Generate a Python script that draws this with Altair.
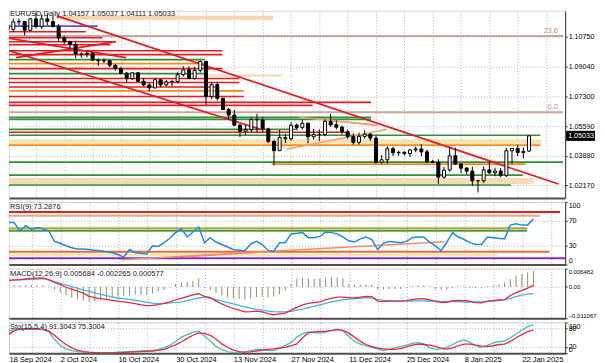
import altair as alt
import pandas as pd

# ---------------- data ----------------
date_labels = ["18 Sep 2024", "2 Oct 2024", "16 Oct 2024", "30 Oct 2024", "13 Nov 2024",
               "27 Nov 2024", "11 Dec 2024", "25 Dec 2024", "8 Jan 2025", "22 Jan 2025"]

opens = [1.1133, 1.1117, 1.1161, 1.1163, 1.1112, 1.1178, 1.1134, 1.1178, 1.1163, 1.1135,
         1.1068, 1.1047, 1.1031, 1.0975, 1.0975, 1.0979, 1.0941, 1.0936, 1.0937, 1.0910,
         1.0892, 1.0865, 1.0833, 1.0867, 1.0818, 1.0797, 1.0780, 1.0827, 1.0797, 1.0815,
         1.0817, 1.0856, 1.0884, 1.0834, 1.0881, 1.0932, 1.0730, 1.0799, 1.0720, 1.0655,
         1.0623, 1.0565, 1.0530, 1.0540, 1.0597, 1.0596, 1.0543, 1.0471, 1.0418, 1.0494,
         1.0487, 1.0565, 1.0552, 1.0576, 1.0498, 1.0511, 1.0511, 1.0587, 1.0567, 1.0553,
         1.0528, 1.0500, 1.0466, 1.0500, 1.0513, 1.0490, 1.0351, 1.0365, 1.0429, 1.0406,
         1.0408, 1.0401, 1.0422, 1.0428, 1.0411, 1.0354, 1.0351, 1.0265, 1.0306, 1.0388,
         1.0341, 1.0317, 1.0300, 1.0244, 1.0244, 1.0307, 1.0290, 1.0300, 1.0274, 1.0417,
         1.0431, 1.0407, 1.04157]
highs = [1.1189, 1.1180, 1.1180, 1.1166, 1.1182, 1.1214, 1.1202, 1.1209, 1.1196, 1.1148,
         1.1080, 1.1054, 1.1043, 1.0985, 1.0990, 1.0985, 1.0951, 1.0950, 1.0942, 1.0918,
         1.0902, 1.0872, 1.0870, 1.0871, 1.0838, 1.0808, 1.0837, 1.0832, 1.0826, 1.0828,
         1.0870, 1.0905, 1.0905, 1.0901, 1.0937, 1.0937, 1.0811, 1.0815, 1.0723, 1.0665,
         1.0653, 1.0572, 1.0568, 1.0608, 1.0630, 1.0610, 1.0550, 1.0480, 1.0537, 1.0516,
         1.0582, 1.0575, 1.0597, 1.0580, 1.0543, 1.0540, 1.0599, 1.0630, 1.0593, 1.0563,
         1.0540, 1.0518, 1.0522, 1.0535, 1.0519, 1.0505, 1.0393, 1.0443, 1.0441, 1.0418,
         1.0415, 1.0425, 1.0442, 1.0456, 1.0425, 1.0365, 1.0368, 1.0323, 1.0437, 1.0435,
         1.0345, 1.0323, 1.0325, 1.0248, 1.0326, 1.0354, 1.0320, 1.0318, 1.0433, 1.0433,
         1.0452, 1.0437, 1.05037]
lows = [1.1107, 1.1103, 1.1140, 1.1083, 1.1110, 1.1122, 1.1121, 1.1142, 1.1128, 1.1045,
        1.1034, 1.1006, 1.0952, 1.0954, 1.0956, 1.0936, 1.0906, 1.0923, 1.0899, 1.0879,
        1.0858, 1.0811, 1.0826, 1.0812, 1.0789, 1.0761, 1.0777, 1.0785, 1.0790, 1.0788,
        1.0810, 1.0845, 1.0831, 1.0829, 1.0869, 1.0682, 1.0714, 1.0707, 1.0652, 1.0595,
        1.0560, 1.0497, 1.0508, 1.0525, 1.0523, 1.0526, 1.0461, 1.0333, 1.0415, 1.0462,
        1.0475, 1.0541, 1.0540, 1.0460, 1.0481, 1.0473, 1.0501, 1.0555, 1.0541, 1.0511,
        1.0486, 1.0453, 1.0453, 1.0487, 1.0474, 1.0343, 1.0343, 1.0343, 1.0387, 1.0388,
        1.0390, 1.0382, 1.0409, 1.0386, 1.0345, 1.0345, 1.0226, 1.0255, 1.0297, 1.0335,
        1.0290, 1.0282, 1.0215, 1.0177, 1.0232, 1.0283, 1.0270, 1.0266, 1.0266, 1.0341,
        1.0386, 1.0373, 1.04111]
closes = [1.1117, 1.1161, 1.1163, 1.1112, 1.1178, 1.1134, 1.1178, 1.1163, 1.1135, 1.1068,
          1.1047, 1.1031, 1.0975, 1.0975, 1.0979, 1.0941, 1.0936, 1.0937, 1.0910, 1.0892,
          1.0865, 1.0833, 1.0867, 1.0818, 1.0797, 1.0780, 1.0827, 1.0797, 1.0815, 1.0817,
          1.0856, 1.0884, 1.0834, 1.0881, 1.0932, 1.0730, 1.0799, 1.0720, 1.0655, 1.0623,
          1.0565, 1.0530, 1.0540, 1.0597, 1.0596, 1.0543, 1.0471, 1.0418, 1.0494, 1.0487,
          1.0565, 1.0552, 1.0576, 1.0498, 1.0511, 1.0511, 1.0587, 1.0567, 1.0553, 1.0528,
          1.0500, 1.0466, 1.0500, 1.0513, 1.0490, 1.0351, 1.0365, 1.0429, 1.0406, 1.0408,
          1.0401, 1.0422, 1.0428, 1.0411, 1.0354, 1.0351, 1.0265, 1.0306, 1.0388, 1.0341,
          1.0317, 1.0300, 1.0244, 1.0244, 1.0307, 1.0290, 1.0300, 1.0274, 1.0417, 1.0431,
          1.0407, 1.0414, 1.05033]

rsi_vals = [59, 67, 67, 54, 62, 56, 59, 57, 54, 37, 34, 30, 27, 25, 25, 24, 23, 22, 20, 19,
            16, 12, 24, 19, 18, 17, 30, 29, 35, 42, 51, 57, 44, 52, 60, 35, 43, 36, 32, 28,
            24, 23, 22, 33, 37, 32, 23, 21, 35, 35, 49, 50, 51, 43, 43, 45, 52, 51, 49, 44,
            38, 36, 41, 44, 40, 24, 34, 37, 36, 35, 37, 43, 44, 44, 36, 30, 22, 36, 51, 44,
            40, 35, 32, 32, 44, 43, 42, 41, 63, 65, 63, 63, 73.2876]

macd_hist = [0.0004, 0.0005, 0.0006, 0.0005, 0.0006, 0.0006, 0.0006, 0.0005, 0.0002, -0.0008,
             -0.0020, -0.0030, -0.0038, -0.0043, -0.0048, -0.0052, -0.0050, -0.0046, -0.0040, -0.0036,
             -0.0033, -0.0031, -0.0030, -0.0028, -0.0027, -0.0026, -0.0022, -0.0016, -0.0010, -0.0002,
             0.0010, 0.0015, 0.0018, 0.0022, 0.0030, -0.0002, -0.0012, -0.0022, -0.0030, -0.0036,
             -0.0040, -0.0042, -0.0044, -0.0041, -0.0036, -0.0034, -0.0036, -0.0034, -0.0026, -0.0012,
             0.0010, 0.0030, 0.0032, 0.0030, 0.0030, 0.0030, 0.0033, 0.0034, 0.0033, 0.0030,
             0.0009, 0.0008, 0.0008, 0.0009, 0.0008, -0.0008, -0.0010, -0.0008, -0.0008, -0.0007,
             -0.0002, 0.0003, 0.0005, 0.0005, 0.0002, -0.0008, -0.0010, -0.0009, -0.0004, 0.0002,
             0.0001, -0.0004, -0.0004, -0.0003, 0.0002, 0.0005, 0.0009, 0.0017, 0.0028, 0.0040,
             0.0046, 0.0052, 0.005684]
macd_red = [0.0021, 0.0023, 0.0025, 0.0026, 0.0028, 0.0030, 0.0031, 0.0032, 0.0026, 0.0016,
            0.0008, -0.0001, -0.0008, -0.0015, -0.0022, -0.0033, -0.0038, -0.0041, -0.0044, -0.0047,
            -0.0050, -0.0053, -0.0055, -0.0059, -0.0063, -0.0066, -0.0065, -0.0062, -0.0058, -0.0053,
            -0.0046, -0.0040, -0.0034, -0.0028, -0.0024, -0.0033, -0.0038, -0.0050, -0.0060, -0.0069,
            -0.0076, -0.0082, -0.0088, -0.0087, -0.0085, -0.0088, -0.0094, -0.0098, -0.0095, -0.0092,
            -0.0082, -0.0072, -0.0063, -0.0058, -0.0055, -0.0053, -0.0045, -0.0040, -0.0036, -0.0036,
            -0.0038, -0.0039, -0.0036, -0.0033, -0.0034, -0.0050, -0.0052, -0.0050, -0.0050, -0.0050,
            -0.0048, -0.0045, -0.0042, -0.0041, -0.0046, -0.0050, -0.0055, -0.0054, -0.0048, -0.0047,
            -0.0048, -0.0050, -0.0055, -0.0056, -0.0050, -0.0048, -0.0046, -0.0045, -0.0030, -0.0020,
            -0.0012, -0.0004, 0.000577]
macd_blue = [0.0020, 0.0022, 0.0024, 0.0025, 0.0026, 0.0027, 0.0028, 0.0029, 0.0025, 0.0019,
             0.0013, 0.0007, 0.0001, -0.0005, -0.0010, -0.0016, -0.0021, -0.0026, -0.0031, -0.0035,
             -0.0039, -0.0041, -0.0044, -0.0047, -0.0050, -0.0054, -0.0057, -0.0059, -0.0058, -0.0056,
             -0.0055, -0.0053, -0.0048, -0.0043, -0.0039, -0.0036, -0.0040, -0.0045, -0.0050, -0.0055,
             -0.0060, -0.0065, -0.0070, -0.0075, -0.0079, -0.0082, -0.0085, -0.0087, -0.0088, -0.0088,
             -0.0086, -0.0082, -0.0078, -0.0073, -0.0068, -0.0063, -0.0058, -0.0053, -0.0049, -0.0045,
             -0.0043, -0.0041, -0.0040, -0.0038, -0.0040, -0.0044, -0.0047, -0.0048, -0.0049, -0.0050,
             -0.0050, -0.0050, -0.0049, -0.0049, -0.0050, -0.0050, -0.0051, -0.0052, -0.0052, -0.0052,
             -0.0053, -0.0053, -0.0053, -0.0053, -0.0052, -0.0050, -0.0048, -0.0045, -0.0040, -0.0034,
             -0.0029, -0.0025, -0.002265]
sto_main = [52, 70, 78, 78, 80, 81, 80, 76, 70, 45, 25, 13, 8, 5, 3, 2, 2, 1, 1, 2,
            3, 4, 5, 6, 7, 8, 8, 12, 18, 25, 38, 52, 60, 68, 71, 55, 40, 22, 12, 5,
            2, 1, 3, 8, 12, 11, 9, 8, 15, 25, 34, 52, 63, 69, 67, 65, 68, 74, 78, 72,
            55, 38, 29, 24, 19, 14, 8, 12, 17, 21, 26, 32, 34, 30, 18, 12, 14, 19, 28, 38,
            43, 35, 24, 19, 25, 33, 37, 40, 50, 62, 75, 86, 91.3043]
sto_signal = [43, 60, 72, 78, 78, 78, 78, 78, 72, 58, 42, 28, 17, 10, 5, 3, 2, 1, 1, 1,
              1, 2, 3, 4, 5, 6, 7, 9, 12, 20, 27, 37, 48, 58, 66, 64, 58, 45, 30, 19,
              10, 5, 3, 4, 7, 10, 12, 14, 17, 19, 24, 30, 50, 66, 69, 70, 71, 73, 76, 74,
              65, 52, 38, 28, 21, 16, 14, 12, 12, 15, 20, 26, 29, 28, 26, 22, 16, 13, 17, 24,
              29, 29, 26, 23, 21, 24, 28, 29, 38, 50, 60, 70, 75.3004]

price_ticks = [1.10750, 1.09040, 1.07300, 1.05590, 1.03880, 1.02170]

# drawn price levels: (price, from bar, to bar)
red_levels = [(1.11037, -1, 13.8), (1.10693, -1, 16.7), (1.10463, -1, 18.4), (1.10291, -1, 18.1),
              (1.09946, -1, 37.9), (1.09717, -1, 37.9), (1.08913, -1, 37.9), (1.08339, -1, 40.9),
              (1.08110, -1, 40.9), (1.07851, -1, 36.6), (1.07306, -1, 41.7), (1.06962, -1, 64.1),
              (1.06789, -1, 53.8), (1.05240, -1, 59.8)]
green_levels = [(1.09430, -1, 34.8), (1.08626, -1, 34.8), (1.06101, -1, 64.1), (1.05986, -1, 64.1),
                (1.05412, -1, 51.2), (1.05067, -1, 94.0), (1.03518, -1, 98.0), (1.02771, -1, 90.9),
                (1.02197, -1, 88.8)]
orange_levels = [(1.09200, -1, 34.8), (1.07622, -1, 41.7), (1.04493, -1, 94.0), (1.03403, 46.6, 91.4)]
purple_levels = [(1.11364, -1, 15.9)]
fib_levels = [(1.10790, -1, 98.0), (1.06388, -1, 98.0)]
fib_names = ["23.6", "0.0"]
bands = [(1.11726, 1.11955, 8.7, 46.8), (1.08454, 1.08569, 35.4, 48.4),
         (1.04551, 1.04837, -1, 94.2), (1.02255, 1.02599, -1, 92.8)]
red_diagonals = [(8.7, 1.11955, 97.2, 1.02255), (-0.3, 1.10693, 20.9, 1.09545),
                 (-0.3, 1.10004, 44.6, 1.05412), (1.5, 1.09545, 19.1, 1.10463)]
orange_diagonals = [(49.2, 1.04264, 67.0, 1.05412), (55.4, 1.05986, 65.3, 1.05640),
                    (51.5, 1.06101, 64.8, 1.05640)]

rsi_levels = [(84.1, -1, 96.6, "red"), (77.8, -1, 93.1, "salmon"), (57.9, -1, 90.9, "olive"),
              (54.0, -1, 90.9, "green"), (20.6, -1, 94.8, "orange"), (15.9, -1, 85.7, "yellow"),
              (10.3, -1, 98.0, "purple")]
rsi_diagonals = [(20.7, 7.9, 76.6, 36.5), (31.7, 12.7, 46.0, 20.6)]

# ---------------- layout / styling ----------------
FONT = "Liberation Sans"
FS = 7.5
AFS = 7.2
XMIN, XMAX = 1.12, 97.5
W = 559
xsc = alt.Scale(domain=[XMIN, XMAX], nice=False, zero=False)
grid5 = list(range(5, 100, 5))
label_js = "[" + ",".join("'%s'" % d for d in date_labels) + "]"

XA_PLAIN = alt.Axis(values=grid5, grid=True, gridColor="#b4b4b4", gridDash=[1, 2], ticks=False,
                    labels=False, domainColor="#505050", domainWidth=2, title=None)
XA_DATES = alt.Axis(values=[XMIN] + grid5, grid=True, gridColor="#b4b4b4", gridDash=[1, 2],
                    ticks=False, domainColor="#505050", domainWidth=2,
                    labelExpr="datum.value < 5 ? %s[0] : (datum.value %% 10 == 0 ? %s[round(datum.value/10)] : '')" % (label_js, label_js),
                    labelAlign="left", labelFont=FONT, labelFontSize=FS, labelColor="#000",
                    labelOverlap=False, labelPadding=2, title=None)


def y_axis(values, size=AFS, **kw):
    return alt.Axis(orient="right", values=values, grid=True, gridColor="#b4b4b4", gridDash=[1, 2],
                    domainColor="#303030", tickColor="#303030", tickSize=2, labelFont=FONT,
                    labelFontSize=size, labelColor="#000", labelPadding=1, title=None, **kw)


def label(text):
    return alt.Chart(pd.DataFrame({"t": [text]})).mark_text(
        align="left", baseline="middle", font=FONT, fontSize=FS, color="#202020"
    ).encode(x=alt.value(1), y=alt.value(5), text="t:N")


# ---------------- price panel ----------------
ysc = alt.Scale(domain=[1.01451, 1.12242], nice=False, zero=False)
YA_P = y_axis(price_ticks, format=".5f")
n = len(closes)
candles = pd.DataFrame({"i": list(range(n)), "o": opens, "h": highs, "l": lows, "c": closes})
candles["dir"] = ["up" if c >= o else "down" for o, c in zip(opens, closes)]

lv_rows = []
for kind, lst in [("red", red_levels), ("green", green_levels), ("orange", orange_levels),
                  ("purple", purple_levels), ("fib", fib_levels)]:
    for p, a, b in lst:
        lv_rows.append({"p": p, "a": a, "b": b, "k": kind})
levels = pd.DataFrame(lv_rows)
kinds = ["red", "green", "orange", "purple", "fib"]
kind_colors = ["#e31b23", "#2f8f3a", "#ff8a1c", "#5a4fd0", "#caa79a"]
kind_widths = [1.6, 2, 2.5, 1.5, 2]

band_df = pd.DataFrame([{"lo": lo, "hi": hi, "a": a, "b": b, "k": "b%d" % j} for j, (lo, hi, a, b) in enumerate(bands)])
diag_df = pd.DataFrame([{"a": a, "pa": pa, "b": b, "pb": pb} for a, pa, b, pb in red_diagonals])
odiag_df = pd.DataFrame([{"a": a, "pa": pa, "b": b, "pb": pb} for a, pa, b, pb in orange_diagonals])
fib_df = pd.DataFrame({"p": [f[0] for f in fib_levels], "t": fib_names, "i": [97.1, 97.1]})
last_price = closes[-1]
box_half = 0.0029  # half height of the price tag, in price units
last_df = pd.DataFrame({"p": [last_price], "lo": [last_price - box_half], "hi": [last_price + box_half]})


def PX(field):
    return alt.X(field, scale=xsc, axis=XA_PLAIN)


def PY(field):
    return alt.Y(field, scale=ysc, axis=YA_P)


band_layer = alt.Chart(band_df).mark_rect(clip=True).encode(
    x=PX("a:Q"), x2="b:Q", y=PY("lo:Q"), y2="hi:Q",
    fill=alt.Fill("k:N", scale=alt.Scale(domain=["b0", "b1", "b2", "b3"],
                                         range=["#f8d3ac", "#f8d6b2", "#f3e3b3", "#f8dab6"]), legend=None))
level_layer = alt.Chart(levels).mark_rule(clip=True).encode(
    x=PX("a:Q"), x2="b:Q", y=PY("p:Q"),
    color=alt.Color("k:N", scale=alt.Scale(domain=kinds, range=kind_colors), legend=None),
    strokeWidth=alt.StrokeWidth("k:N", scale=alt.Scale(domain=kinds, range=kind_widths), legend=None))
diag_layer = alt.Chart(diag_df).mark_rule(clip=True, color="#e31b23", strokeWidth=1.8).encode(
    x=PX("a:Q"), x2="b:Q", y=PY("pa:Q"), y2="pb:Q")
odiag_layer = alt.Chart(odiag_df).mark_rule(clip=True, color="#f2a070", strokeWidth=1.5).encode(
    x=PX("a:Q"), x2="b:Q", y=PY("pa:Q"), y2="pb:Q")
wick_layer = alt.Chart(candles).mark_rule(clip=True, color="black", strokeWidth=1).encode(
    x=PX("i:Q"), y=PY("l:Q"), y2="h:Q")
body_layer = alt.Chart(candles).mark_bar(clip=True, size=3, stroke="black", strokeWidth=1).encode(
    x=PX("i:Q"), y=PY("o:Q"), y2="c:Q",
    fill=alt.Fill("dir:N", scale=alt.Scale(domain=["up", "down"], range=["white", "black"]), legend=None))
fib_text = alt.Chart(fib_df).mark_text(align="right", baseline="bottom", dy=-1, font=FONT,
                                       fontSize=FS, color="#c09080").encode(
    x=PX("i:Q"), y=PY("p:Q"), text="t:N")
box_layer = alt.Chart(last_df).mark_rect(color="black", clip=False).encode(
    x=alt.value(560), x2=alt.value(589), y=PY("lo:Q"), y2="hi:Q")
box_text = alt.Chart(last_df).mark_text(align="left", baseline="middle", color="white", font=FONT,
                                        fontSize=AFS, clip=False).encode(
    x=alt.value(562), y=PY("p:Q"), text=alt.Text("p:Q", format=".5f"))
header = alt.Chart(pd.DataFrame({"t": ["EURUSD,Daily  1.04157 1.05037 1.04111 1.05033"]})).mark_text(
    align="left", baseline="middle", font=FONT, fontSize=FS, color="#202020"
).encode(x=alt.value(1), y=alt.value(3), text="t:N")

price = alt.layer(band_layer, level_layer, diag_layer, odiag_layer, wick_layer, body_layer,
                  fib_text, box_layer, box_text, header).resolve_scale(
    color="independent", fill="independent", strokeWidth="independent"
).properties(width=W, height=188)

# ---------------- RSI panel ----------------
rsc = alt.Scale(domain=[0, 100], nice=False)
YA_R = y_axis([0, 30, 70, 100], labelFlush=True)
ind = pd.DataFrame({"i": list(range(n)), "rsi": rsi_vals, "h": macd_hist, "r": macd_red,
                    "b": macd_blue, "s1": sto_main, "s2": sto_signal})
rlv = pd.DataFrame([{"v": v, "a": a, "b": b, "k": k} for v, a, b, k in rsi_levels])
rkinds = ["red", "salmon", "olive", "green", "orange", "yellow", "purple"]
rcolors = ["#e31b23", "#f4a57e", "#b9a83e", "#4f9a3a", "#f26a2a", "#f5e6a4", "#8a22c8"]
rdiag = pd.DataFrame([{"a": a, "va": va, "b": b, "vb": vb} for a, va, b, vb in rsi_diagonals])


def RY(field):
    return alt.Y(field, scale=rsc, axis=YA_R)


rsi_lv_layer = alt.Chart(rlv).mark_rule(clip=True, strokeWidth=2).encode(
    x=PX("a:Q"), x2="b:Q", y=RY("v:Q"),
    color=alt.Color("k:N", scale=alt.Scale(domain=rkinds, range=rcolors), legend=None))
rsi_diag_layer = alt.Chart(rdiag).mark_rule(clip=True, strokeWidth=1.5, color="#f0906a").encode(
    x=PX("a:Q"), x2="b:Q", y=RY("va:Q"), y2="vb:Q")
rsi_line = alt.Chart(ind).mark_line(clip=True, color="#1f8ae8", strokeWidth=1.5).encode(
    x=PX("i:Q"), y=RY("rsi:Q"))
rsi_panel = alt.layer(rsi_lv_layer, rsi_diag_layer, rsi_line,
                      label("RSI(9) 73.2876")).properties(width=W, height=63)

# ---------------- MACD panel ----------------
msc = alt.Scale(domain=[-0.011067, 0.006482], nice=False, zero=False)
YA_M = y_axis([-0.011067, 0, 0.006482], size=6.0, labelFlush=True,
              labelExpr="datum.value == 0 ? '0.00' : format(datum.value, '.6f')")


def MY(field):
    return alt.Y(field, scale=msc, axis=YA_M)


hist_layer = alt.Chart(ind).mark_rule(clip=True, color="#8f8f68", strokeWidth=1).encode(
    x=PX("i:Q"), y=MY("h:Q"), y2=alt.datum(0))
red_line = alt.Chart(ind).mark_line(clip=True, color="#e8283c", strokeWidth=1.3).encode(
    x=PX("i:Q"), y=MY("r:Q"))
blue_line = alt.Chart(ind).mark_line(clip=True, color="#3fb2ee", strokeWidth=1.3).encode(
    x=PX("i:Q"), y=MY("b:Q"))
macd_panel = alt.layer(hist_layer, blue_line, red_line,
                       label("MACD(12,26,9) 0.005684 -0.002265 0.000577")
                       ).properties(width=W, height=50)

# ---------------- Stochastic panel ----------------
ssc = alt.Scale(domain=[0, 100], nice=False)
YA_S = y_axis([0, 20, 80, 100], labelFlush=True, labelOverlap=False)


def SX(field):
    return alt.X(field, scale=xsc, axis=XA_DATES)


def SY(field):
    return alt.Y(field, scale=ssc, axis=YA_S)


s_main = alt.Chart(ind).mark_line(clip=True, color="#45bfae", strokeWidth=1.3).encode(
    x=SX("i:Q"), y=SY("s1:Q"))
s_sig = alt.Chart(ind).mark_line(clip=True, color="#e8283c", strokeWidth=1.3).encode(
    x=SX("i:Q"), y=SY("s2:Q"))
sto_panel = alt.layer(s_main, s_sig, label("Sto(15,5,4) 91.3043 75.3004")
                      ).properties(width=W, height=31)

chart = alt.vconcat(price, rsi_panel, macd_panel, sto_panel, spacing=2).properties(
    padding=0
).configure_view(stroke=None).configure(background="white")

chart.save("out.html", embed_options={"renderer": "svg", "actions": False})
